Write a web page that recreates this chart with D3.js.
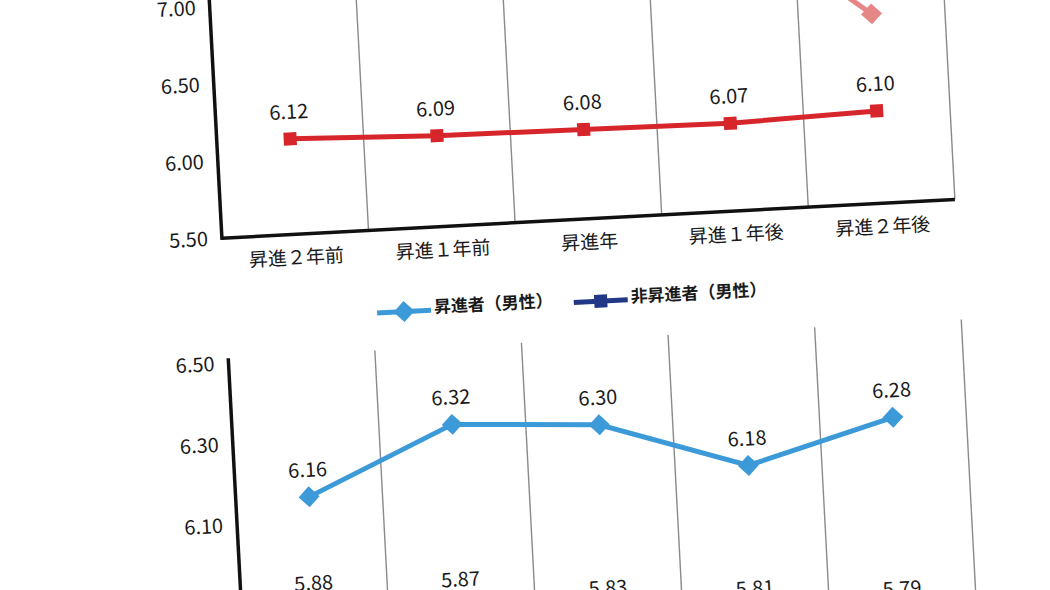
<!DOCTYPE html>
<html>
<head>
<meta charset="utf-8">
<script src="https://cdn.jsdelivr.net/npm/d3@7"></script>
<style>
  body { margin: 0; background: #fff; }
  svg text { font-family: "Noto Sans CJK JP", "Noto Sans", sans-serif; fill: #1a1a1a; }
</style>
</head>
<body>
<svg id="chart" width="1050" height="590"></svg>
<script>
// data
const categories = ["昇進２年前", "昇進１年前", "昇進年", "昇進１年後", "昇進２年後"];
const redValues = [6.12, 6.09, 6.08, 6.07, 6.10];
const pinkValues = [7.30, 7.05, 7.35, 7.48, 6.73];
const blueValues = [6.16, 6.32, 6.30, 6.18, 6.28];
const navyValues = [5.88, 5.87, 5.83, 5.81, 5.79];
const topTicks = [5.5, 6.0, 6.5, 7.0];
const bottomTicks = [5.5, 5.7, 5.9, 6.1, 6.3, 6.5];
const legendLabels = ["昇進者（男性）", "非昇進者（男性）"];

const red = "#d7262b", pink = "#e58787", blue = "#3d9ad9", navy = "#223887";

// the page is a slightly tilted scan, so everything goes in a rotated group
const svg = d3.select("#chart");
const root = svg.append("g").attr("transform", "rotate(-3.03)");

const left = 209, right = 943;

const x = d3.scaleBand().domain(categories).range([left, right]);
const boundaries = categories.map((c, i) => left + x.bandwidth() * (i + 1));

function square(sel, color) {
    sel.append("rect")
        .attr("x", -6.5).attr("y", -6.5)
        .attr("width", 13).attr("height", 13)
        .attr("fill", color);
}
function diamond(sel, color) {
    sel.append("path")
        .attr("d", "M0,-10.5L10.5,0L0,10.5L-10.5,0Z")
        .attr("fill", color);
}

function drawPanel(y, top, bottom, ticks, series) {
    const g = root.append("g");

    // vertical grid lines between categories
    g.selectAll()
        .data(boundaries)
        .enter()
        .append("line")
        .attr("x1", d => d).attr("x2", d => d)
        .attr("y1", top).attr("y2", bottom)
        .attr("stroke", "#8a8a8a")
        .attr("stroke-width", 1.4);

    // axes
    g.append("line")
        .attr("x1", left).attr("x2", left)
        .attr("y1", top).attr("y2", bottom + 1.7)
        .attr("stroke", "#111").attr("stroke-width", 3.5);
    g.append("line")
        .attr("x1", left).attr("x2", right)
        .attr("y1", bottom).attr("y2", bottom)
        .attr("stroke", "#111").attr("stroke-width", 3.5);

    // tick labels
    g.selectAll()
        .data(ticks)
        .enter()
        .append("text")
        .attr("x", left - 14)
        .attr("y", d => y(d) + 7)
        .attr("text-anchor", "end")
        .style("font-size", "20px")
        .text(d => d.toFixed(2));

    // category labels
    g.selectAll()
        .data(categories)
        .enter()
        .append("text")
        .attr("x", d => x(d) + x.bandwidth() / 2)
        .attr("y", bottom + 30)
        .attr("text-anchor", "middle")
        .style("font-size", "19px")
        .text(d => d);

    series.forEach(s => {
        const pts = s.values.map((v, i) => [x(categories[i]) + x.bandwidth() / 2, y(v)]);
        g.append("path")
            .attr("d", d3.line()(pts))
            .attr("fill", "none")
            .attr("stroke", s.color)
            .attr("stroke-width", 5);
        g.selectAll()
            .data(pts)
            .enter()
            .append("g")
            .attr("transform", d => `translate(${d[0]},${d[1]})`)
            .each(function () { s.marker(d3.select(this), s.color); });
        if (!s.labels) return;
        g.selectAll()
            .data(s.values)
            .enter()
            .append("text")
            .attr("x", (d, i) => x(categories[i]) + x.bandwidth() / 2)
            .attr("y", d => y(d) - 20)
            .attr("text-anchor", "middle")
            .style("font-size", "20px")
            .text(d => d.toFixed(2));
    });
}

// upper panel (pink series runs off the top of the scan)
const yTop = d3.scaleLinear().domain([5.5, 8.0]).range([249.6, 249.6 - 2.5 * 154.2]);
drawPanel(yTop, yTop(8.0), yTop(5.5), topTicks, [
    { values: pinkValues, color: pink, marker: diamond, labels: false },
    { values: redValues, color: red, marker: square, labels: true }
]);

// lower panel
const yBottom = d3.scaleLinear().domain([5.5, 6.5]).range([779.8, 374.8]);
drawPanel(yBottom, yBottom(6.5) - 5, yBottom(5.5), bottomTicks, [
    { values: blueValues, color: blue, marker: diamond, labels: true },
    { values: navyValues, color: navy, marker: square, labels: true }
]);

// legend between the panels
const legend = root.append("g").attr("transform", "translate(0,332.5)");
const legendItems = [
    { label: legendLabels[0], color: blue, marker: diamond, x0: 360 },
    { label: legendLabels[1], color: navy, marker: square, x0: 557 }
];
legendItems.forEach(d => {
    legend.append("line")
        .attr("x1", d.x0).attr("x2", d.x0 + 54)
        .attr("stroke", d.color).attr("stroke-width", 5);
    d.marker(legend.append("g").attr("transform", `translate(${d.x0 + 27},0)`), d.color);
    legend.append("text")
        .attr("x", d.x0 + 57)
        .attr("y", 3)
        .style("font-size", "17px")
        .style("font-weight", "bold")
        .text(d.label);
});
</script>
</body>
</html>
